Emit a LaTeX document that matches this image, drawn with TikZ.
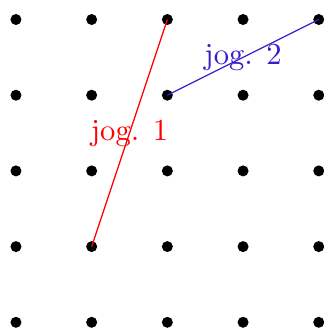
\documentclass[tikz,border=0pt]{standalone}
\usepackage{tikz}
\usetikzlibrary{positioning,calc}
\definecolor{jogblue}{RGB}{55,30,205}

\begin{document}
\begin{tikzpicture}
        [x=0.87cm,y=0.87cm,
        dot/.style={fill=black,circle,inner sep=0mm,minimum size=3.6pt},
        jog/.style={line width=0.4pt}]
        \useasboundingbox (-0.211,-0.115) rectangle (4.069,4.258);
        \foreach \i in {0,...,4}
            \foreach \j in {0,...,4}
                \node[dot] (d-\i-\j) at (\i,\j) {};
        \draw[jog,red] (d-1-1.center) -- node[text=red] (j1) {jog. 1} (d-2-4.center);
        \draw[jog,jogblue] (d-2-3.center) -- node[text=jogblue] (j2) {jog. 2} (d-4-4.center);
        \end{tikzpicture}
\end{document}
